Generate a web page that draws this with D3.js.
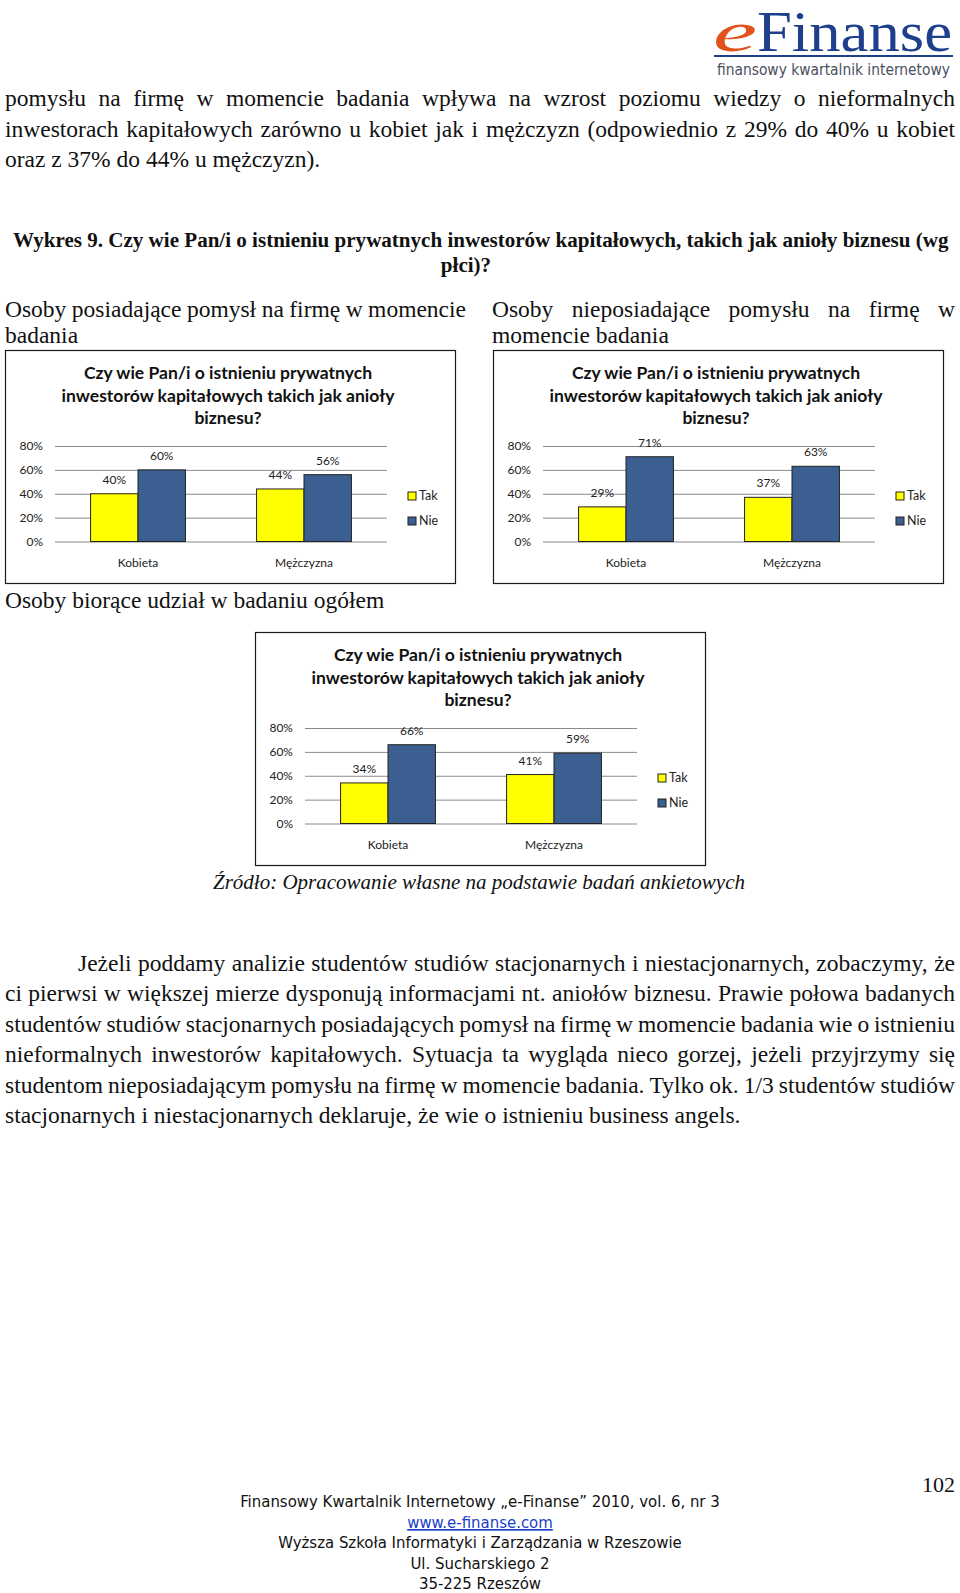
<!DOCTYPE html>
<html>
<head>
<meta charset="utf-8">
<script src="https://cdn.jsdelivr.net/npm/d3@7"></script>
<style>
  html, body { margin: 0; padding: 0; background: #fff; }
  svg { display: block; }
</style>
</head>
<body>
<svg id="page" width="960" height="1593"></svg>
<script>
// ---- chart data ----
const categories = ['Kobieta', 'Mężczyzna'];
const seriesNames = ['Tak', 'Nie'];
const yTicks = [0, 20, 40, 60, 80];

// Osoby posiadające pomysł na firmę
const takPosiadajace = [40, 44];
const niePosiadajace = [60, 56];
// Osoby nieposiadające pomysłu na firmę
const takNieposiadajace = [29, 37];
const nieNieposiadajace = [71, 63];
// Osoby biorące udział w badaniu ogółem
const takOgolem = [34, 41];
const nieOgolem = [66, 59];

const chartTitle = [
    'Czy wie Pan/i o istnieniu prywatnych',
    'inwestorów kapitałowych takich jak anioły',
    'biznesu?'
];

// ---- page texts ----
const introLines = [
    'pomysłu na firmę w momencie badania wpływa na wzrost poziomu wiedzy o nieformalnych',
    'inwestorach kapitałowych zarówno u kobiet jak i mężczyzn (odpowiednio z 29% do 40% u kobiet',
    'oraz z 37% do 44% u mężczyzn).'
];
const headingLines = [
    'Wykres 9. Czy wie Pan/i o istnieniu prywatnych inwestorów kapitałowych, takich jak anioły biznesu (wg',
    'płci)?'
];
const bodyLines = [
    'Jeżeli poddamy analizie studentów studiów stacjonarnych i niestacjonarnych, zobaczymy, że',
    'ci pierwsi w większej mierze dysponują informacjami nt. aniołów biznesu. Prawie połowa badanych',
    'studentów studiów stacjonarnych posiadających pomysł na firmę w momencie badania wie o istnieniu',
    'nieformalnych inwestorów kapitałowych. Sytuacja ta wygląda nieco gorzej, jeżeli przyjrzymy się',
    'studentom nieposiadającym pomysłu na firmę w momencie badania. Tylko ok. 1/3 studentów studiów',
    'stacjonarnych i niestacjonarnych deklaruje, że wie o istnieniu business angels.'
];
const footerLines = [
    'Finansowy Kwartalnik Internetowy „e-Finanse” 2010, vol. 6, nr 3',
    'www.e-finanse.com',
    'Wyższa Szkoła Informatyki i Zarządzania w Rzeszowie',
    'Ul. Sucharskiego 2',
    '35-225 Rzeszów'
];

const serif = '"Liberation Serif", "Times New Roman", serif';
const chartFont = 'Lato, "Open Sans", sans-serif';
const narrow = '"Liberation Sans Narrow", "DejaVu Sans Condensed", sans-serif';
const colors = { Tak: '#ffff00', Nie: '#3b5f90' };

const svg = d3.select('#page');

// Plain line of text
function textLine(str, x, y, size, opts = {}) {
    return svg.append('text')
        .attr('x', x)
        .attr('y', y)
        .attr('text-anchor', opts.anchor || 'start')
        .style('font-family', opts.family || serif)
        .style('font-size', size + 'px')
        .style('font-weight', opts.weight || 'normal')
        .style('font-style', opts.style || 'normal')
        .attr('fill', opts.fill || '#111')
        .text(str);
}

// Justified line: words spread between x0 and x1
function justifyLine(str, x0, x1, y, size, opts = {}) {
    const t = svg.append('text')
        .style('font-family', opts.family || serif)
        .style('font-size', size + 'px')
        .style('font-weight', opts.weight || 'normal')
        .attr('fill', '#111');
    const words = str.split(' ');
    const spans = words.map(w => t.append('tspan').text(w));
    const widths = spans.map(s => s.node().getComputedTextLength());
    const gap = (x1 - x0 - d3.sum(widths)) / (words.length - 1);
    let cx = x0;
    spans.forEach((s, i) => {
        s.attr('x', cx).attr('y', y);
        cx += widths[i] + gap;
    });
    return t;
}

// Scale the font size so the text is the given width
function fitWidth(sel, width) {
    const size = parseFloat(sel.style('font-size'));
    const w = sel.node().getComputedTextLength();
    sel.style('font-size', (size * width / w) + 'px');
    return size * width / w;
}

/* Draws one clustered bar chart inside a framed box */
function drawChart(left, top, tak, nie) {
    const g = svg.append('g').attr('transform', `translate(${left},${top})`);

    // frame
    g.append('rect')
        .attr('x', 0.5).attr('y', 0.5)
        .attr('width', 450).attr('height', 233)
        .attr('fill', '#fff')
        .attr('stroke', '#1a1a1a')
        .attr('stroke-width', 1.2);

    // title
    const title = g.append('text')
        .attr('text-anchor', 'middle')
        .style('font-family', chartFont)
        .style('font-weight', 'bold')
        .style('font-size', '16px')
        .attr('fill', '#111');
    const spans = chartTitle.map((t, i) =>
        title.append('tspan').attr('x', 223).attr('y', 29 + i * 22.5).text(t));
    const w = spans[1].node().getComputedTextLength();
    title.style('font-size', (16 * 333 / w) + 'px');

    // scales
    const x0 = d3.scaleBand().domain(categories).range([50, 382]);
    const x1 = d3.scaleBand().domain(seriesNames)
        .range([0, x0.bandwidth()])
        .paddingInner(0)
        .paddingOuter(0.75);
    const y = d3.scaleLinear().domain([0, 80]).range([191.5, 96]);

    // gridlines and y tick labels
    const axis = g.append('g')
        .attr('transform', 'translate(50,0)')
        .call(d3.axisLeft(y)
            .tickValues(yTicks)
            .tickFormat(d => d + '%')
            .tickSize(-332)
            .tickPadding(12));
    axis.select('.domain').remove();
    axis.selectAll('line').attr('stroke', '#8a8a8a');
    axis.selectAll('text')
        .style('font-family', chartFont)
        .style('font-size', '12px')
        .attr('fill', '#222');

    const rows = categories.map((c, i) => ({
        cat: c,
        values: [{ s: 'Tak', v: tak[i] }, { s: 'Nie', v: nie[i] }]
    }));

    const groups = g.selectAll('.cat')
        .data(rows)
        .enter().append('g')
        .attr('transform', d => `translate(${x0(d.cat)},0)`);

    groups.selectAll('rect')
        .data(d => d.values)
        .enter().append('rect')
        .attr('x', d => x1(d.s))
        .attr('y', d => y(d.v))
        .attr('width', x1.bandwidth())
        .attr('height', d => y(0) - y(d.v))
        .attr('fill', d => colors[d.s])
        .attr('stroke', '#222')
        .attr('stroke-width', 1);

    // value labels
    groups.selectAll('.val')
        .data(d => d.values)
        .enter().append('text')
        .attr('x', d => x1(d.s) + x1.bandwidth() / 2)
        .attr('y', d => y(d.v) - 10)
        .attr('text-anchor', 'middle')
        .style('font-family', chartFont)
        .style('font-size', '12px')
        .attr('fill', '#222')
        .text(d => d.v + '%');

    // category labels
    g.selectAll('.catLabel')
        .data(categories)
        .enter().append('text')
        .attr('x', d => x0(d) + x0.bandwidth() / 2)
        .attr('y', 217)
        .attr('text-anchor', 'middle')
        .style('font-family', chartFont)
        .style('font-size', '12px')
        .attr('fill', '#222')
        .text(d => d);

    // legend
    const legend = g.selectAll('.legend')
        .data(seriesNames)
        .enter().append('g')
        .attr('transform', (d, i) => `translate(403,${142 + i * 25})`);
    legend.append('rect')
        .attr('width', 8).attr('height', 8)
        .attr('fill', d => colors[d])
        .attr('stroke', '#222');
    legend.append('text')
        .attr('x', 11).attr('y', 8)
        .style('font-family', chartFont)
        .style('font-size', '12.5px')
        .attr('fill', '#222')
        .text(d => d);
}

// ---- logo ----
textLine('e', 713, 51, 56, { style: 'italic', fill: '#e2521d' })
    .attr('textLength', 44)
    .attr('lengthAdjust', 'spacingAndGlyphs');
textLine('Finanse', 757, 51, 56, { fill: '#1e3f8c' })
    .attr('textLength', 195)
    .attr('lengthAdjust', 'spacingAndGlyphs');
svg.append('line')
    .attr('x1', 714).attr('x2', 953)
    .attr('y1', 56).attr('y2', 56)
    .attr('stroke', '#1e3f8c').attr('stroke-width', 2);
const sub = textLine('finansowy kwartalnik internetowy', 717, 75, 15,
    { family: narrow, fill: '#4a5060' });
fitWidth(sub, 233);

// ---- intro paragraph ----
const bodySize = 23.5;
justifyLine(introLines[0], 5, 955, 106, bodySize);
justifyLine(introLines[1], 5, 955, 136.5, bodySize);
textLine(introLines[2], 5, 167, bodySize);

// ---- heading ----
const h1 = textLine(headingLines[0], 13, 247, 21, { weight: 'bold' });
fitWidth(h1, 936);
textLine(headingLines[1], 466, 272, parseFloat(h1.style('font-size')),
    { weight: 'bold', anchor: 'middle' });

// ---- chart captions ----
justifyLine('Osoby posiadające pomysł na firmę w momencie', 5, 466, 316.5, bodySize);
textLine('badania', 5, 343, bodySize);
justifyLine('Osoby nieposiadające pomysłu na firmę w', 492, 955, 316.5, bodySize);
textLine('momencie badania', 492, 343, bodySize);

drawChart(5, 350, takPosiadajace, niePosiadajace);
drawChart(493, 350, takNieposiadajace, nieNieposiadajace);

textLine('Osoby biorące udział w badaniu ogółem', 5, 608, bodySize);
drawChart(255, 632, takOgolem, nieOgolem);

const src = textLine('Źródło: Opracowanie własne na podstawie badań ankietowych',
    213, 889, 22, { style: 'italic' });
fitWidth(src, 532);

// ---- body paragraph ----
bodyLines.forEach((line, i) => {
    const y = 971 + i * 30.4;
    if (i === 0) {
        justifyLine(line, 78, 955, y, bodySize);
    } else if (i < bodyLines.length - 1) {
        justifyLine(line, 5, 955, y, bodySize);
    } else {
        textLine(line, 5, y, bodySize);
    }
});

// ---- page number and footer ----
textLine('102', 955, 1492, 22, { anchor: 'end' });

const f1 = textLine(footerLines[0], 480, 1507, 17, { family: narrow, anchor: 'middle' });
const footSize = fitWidth(f1, 480);
footerLines.slice(1).forEach((line, i) => {
    const t = textLine(line, 480, 1528 + i * 20.3, footSize,
        { family: narrow, anchor: 'middle', fill: i === 0 ? '#1a3ec8' : '#111' });
    if (i === 0) t.style('text-decoration', 'underline');
});
</script>
</body>
</html>
